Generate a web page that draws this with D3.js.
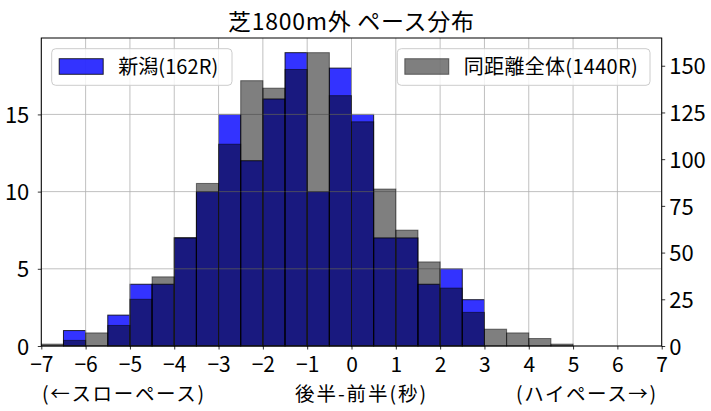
<!DOCTYPE html>
<html><head><meta charset="utf-8">
<script src="https://cdn.jsdelivr.net/npm/d3@7"></script>
<style>
html,body{margin:0;padding:0;background:#fff;}
svg{display:block;}
text{font-family:"Noto Sans CJK JP","Noto Sans",sans-serif;fill:#000;}
</style></head>
<body><svg id="c" width="711" height="411"></svg>
<script>
// bin left edges (width 0.5)
const binStarts = [-7,-6.5,-6,-5.5,-5,-4.5,-4,-3.5,-3,-2.5,-2,-1.5,-1,-0.5,0,0.5,1,1.5,2,2.5,3,3.5,4,4.5,5,5.5,6,6.5];
const binWidth = 0.5;
// 新潟 (162R) counts – left axis
const niigata = [0,1,0,2,4,4,7,10,15,12,16,19,10,18,15,7,7,4,5,3,0,0,0,0,0,0,0,null];
// 同距離全体 (1440R) counts – right axis
const allDist = [1,3,7,11,25,37,58,87,108,142,138,148,157,134,120,84,62,45,31,18,9,7,4,1,0,0,0,null];
const xTicks = [-7,-6,-5,-4,-3,-2,-1,0,1,2,3,4,5,6,7];
const yLeftTicks = [0,5,10,15];
const yRightTicks = [0,25,50,75,100,125,150];
const title = "芝1800m外 ペース分布";
const xLabelParts = ["(←スローペース)","後半-前半(秒)","(ハイペース→)"];
const legendLeft = "新潟(162R)";
const legendRight = "同距離全体(1440R)";

const W=711,H=411;
const m={l:41.3,r:711-661.7,t:38,b:411-346};
const svg=d3.select("#c");
const x=d3.scaleLinear().domain([-7,7]).range([m.l,W-m.r]);
const yL=d3.scaleLinear().domain([0,d3.max(niigata)*1.05]).range([H-m.b,m.t]);
const yR=d3.scaleLinear().domain([0,d3.max(allDist)*1.05]).range([H-m.b,m.t]);

svg.append("defs").append("clipPath").attr("id","pc").append("rect")
  .attr("x",m.l).attr("y",m.t-1).attr("width",x(7)-x(-7)).attr("height",(H-m.b)-m.t+2);

const blueData=binStarts.map((s,i)=>({s,v:niigata[i]})).filter(d=>d.v!==null);
const grayData=binStarts.map((s,i)=>({s,v:allDist[i]})).filter(d=>d.v!==null);

const g1=svg.append("g").attr("clip-path","url(#pc)");
// blue bars
g1.selectAll("rect.b").data(blueData).join("rect").attr("class","b")
  .attr("x",d=>x(d.s)).attr("width",d=>x(d.s+binWidth)-x(d.s))
  .attr("y",d=>yL(d.v)).attr("height",d=>yL(0)-yL(d.v))
  .attr("fill","rgb(0,0,255)").attr("fill-opacity",0.8)
  .attr("stroke","#000").attr("stroke-opacity",0.8).attr("stroke-width",1);
// grid
const grid=svg.append("g");
grid.selectAll("line.gx").data(xTicks).join("line")
  .attr("x1",d=>x(d)).attr("x2",d=>x(d)).attr("y1",m.t).attr("y2",H-m.b)
  .attr("stroke","#b0b0b0").attr("stroke-width",0.8);
grid.selectAll("line.gy").data(yLeftTicks).join("line")
  .attr("x1",m.l).attr("x2",W-m.r).attr("y1",d=>yL(d)).attr("y2",d=>yL(d))
  .attr("stroke","#b0b0b0").attr("stroke-width",0.8);
// gray bars
const g2=svg.append("g").attr("clip-path","url(#pc)");
g2.selectAll("rect.g").data(grayData).join("rect").attr("class","g")
  .attr("x",d=>x(d.s)).attr("width",d=>x(d.s+binWidth)-x(d.s))
  .attr("y",d=>yR(d.v)).attr("height",d=>yR(0)-yR(d.v))
  .attr("fill","#000").attr("fill-opacity",0.5)
  .attr("stroke","#000").attr("stroke-opacity",0.5).attr("stroke-width",1);

// axes
const ax=d3.axisBottom(x).tickValues(xTicks).tickSize(3.5).tickPadding(3.5).tickFormat(d=>d<0?"−"+Math.abs(d):d);
const ga=svg.append("g").attr("transform",`translate(0,${H-m.b})`).call(ax);
const al=d3.axisLeft(yL).tickValues(yLeftTicks).tickSize(3.5).tickPadding(8.5);
const gl=svg.append("g").attr("transform",`translate(${m.l},0)`).call(al);
const ar=d3.axisRight(yR).tickValues(yRightTicks).tickSize(3.5).tickPadding(4);
const gr=svg.append("g").attr("transform",`translate(${W-m.r},0)`).call(ar);
[ga,gl,gr].forEach(a=>{
  a.select(".domain").remove();
  a.selectAll(".tick line").attr("stroke","#000").attr("stroke-width",0.8);
  a.selectAll(".tick text").attr("font-size",22).attr("font-family",null).style("font-family",'"Noto Sans CJK JP",sans-serif').attr("fill","#000");
});
ga.selectAll(".tick text").attr("font-size",21).attr("dy",null).attr("y",26);
gl.selectAll(".tick text").attr("dy","0.37em");
gr.selectAll(".tick text").attr("dy","0.37em");

// frame
svg.append("rect").attr("x",m.l).attr("y",m.t).attr("width",x(7)-x(-7)).attr("height",(H-m.b)-m.t)
  .attr("fill","none").attr("stroke","#000").attr("stroke-width",1);

// title
svg.append("text").attr("x",228).attr("y",29.5)
  .attr("font-size",23).attr("textLength",246).attr("lengthAdjust","spacing").text(title);
// x label
const xlX=[42,295,516];
const xlW=[162,131,140];
xLabelParts.forEach((t,i)=>svg.append("text").attr("x",xlX[i]).attr("y",400.5).attr("font-size",19.5)
  .attr("textLength",xlW[i]).attr("lengthAdjust","spacing").text(t));

// legends
function legend(x0,x1,fill,op,label,tw){
  const lg=svg.append("g");
  lg.append("rect").attr("x",x0).attr("y",48.7).attr("width",x1-x0).attr("height",36.6).attr("rx",4)
    .attr("fill","#fff").attr("fill-opacity",0.8).attr("stroke","#ccc").attr("stroke-width",1);
  lg.append("rect").attr("x",x0+7.5).attr("y",58.7).attr("width",44).attr("height",15.6)
    .attr("fill",fill).attr("fill-opacity",op).attr("stroke","#000").attr("stroke-opacity",op).attr("stroke-width",1);
  lg.append("text").attr("x",x0+66.5).attr("y",74).attr("font-size",20)
    .attr("textLength",tw).attr("lengthAdjust","spacing").text(label);
}
legend(51.7,232,"rgb(0,0,255)",0.8,legendLeft,100);
legend(397.3,650,"#000",0.5,legendRight,174);
</script></body></html>
